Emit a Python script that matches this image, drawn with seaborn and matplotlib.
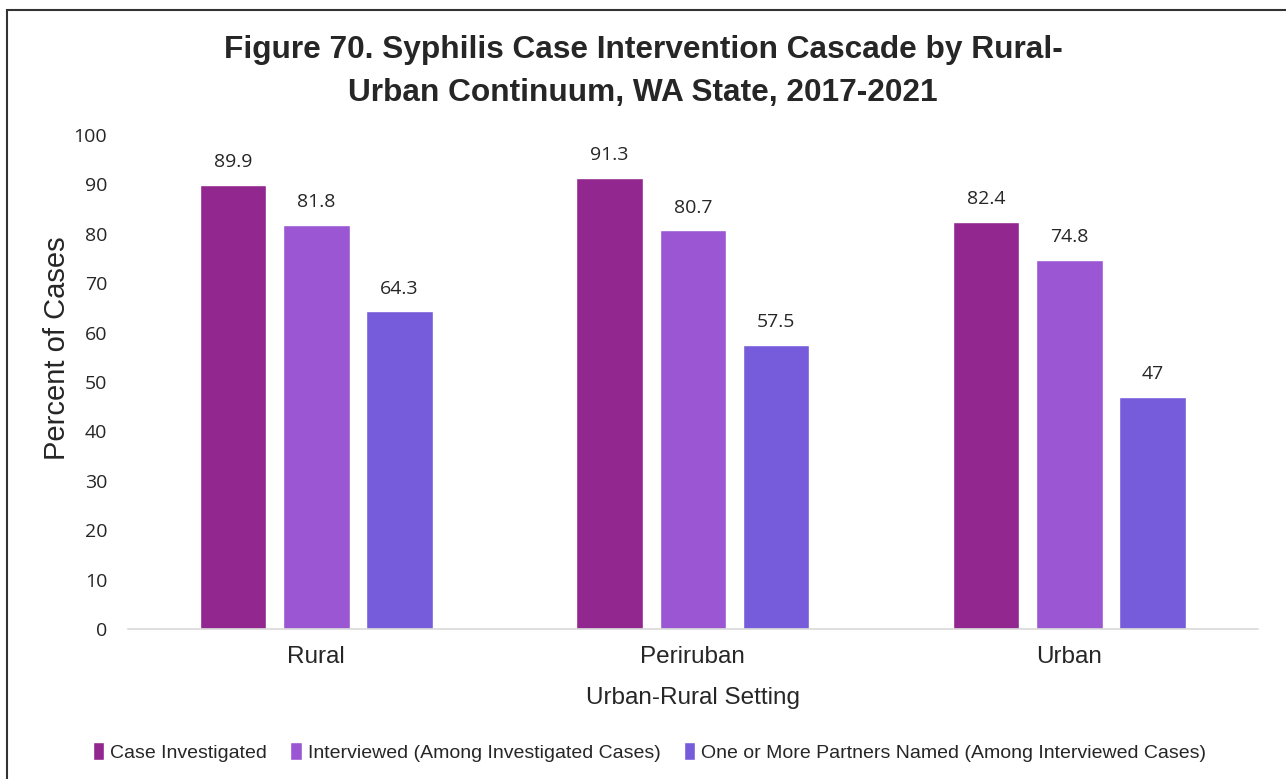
import pandas as pd
import seaborn as sns
import matplotlib.pyplot as plt
from matplotlib.patches import Rectangle

settings = ["Rural", "Periruban", "Urban"]
series = [
    "Case Investigated",
    "Interviewed (Among Investigated Cases)",
    "One or More Partners Named (Among Interviewed Cases)",
]
case_investigated = [89.9, 91.3, 82.4]
interviewed = [81.8, 80.7, 74.8]
partners_named = [64.3, 57.5, 47]
colors = ["#92278F", "#9B57D3", "#765CDB"]

df = pd.DataFrame({
    "setting": settings * 3,
    "series": [series[0]] * 3 + [series[1]] * 3 + [series[2]] * 3,
    "value": case_investigated + interviewed + partners_named,
})

sns.set_theme(style="white")
plt.rcParams["font.family"] = ["Liberation Sans", "DejaVu Sans"]
text_color = "#262626"

fig = plt.figure(figsize=(12.86, 7.79), dpi=100)
ax = fig.add_axes([0.0995, 0.1926, 0.8785, 0.634])

sns.barplot(
    data=df, x="setting", y="value", hue="series",
    order=settings, hue_order=series, palette=colors,
    width=0.663, gap=0.2, saturation=1, legend=True, ax=ax,
)

for cont in ax.containers:
    labels = [f"{v:g}" for v in cont.datavalues]
    ax.bar_label(cont, labels=labels, padding=10, fontsize=14,
                 color=text_color, family=["Open Sans", "DejaVu Sans"])

ax.set_ylim(0, 100)
ax.set_xlim(-0.5, 2.5)
ax.set_yticks(range(0, 101, 10))
ax.tick_params(axis="y", labelsize=14, labelcolor=text_color, pad=15, length=0)
for lbl in ax.get_yticklabels():
    lbl.set_family(["Open Sans", "DejaVu Sans"])
ax.tick_params(axis="x", labelsize=17.5, labelcolor=text_color, pad=12, length=0)

sns.despine(ax=ax, left=True)
ax.spines["bottom"].set_color("#d9d9d9")
ax.spines["bottom"].set_linewidth(1.2)

ax.set_ylabel("Percent of Cases", fontsize=21, color=text_color)
ax.yaxis.set_label_coords(-0.05, 0.569)
ax.set_xlabel("Urban-Rural Setting", fontsize=17.5, color=text_color, labelpad=14)

fig.suptitle("Figure 70. Syphilis Case Intervention Cascade by Rural-\nUrban Continuum, WA State, 2017-2021",
             x=0.5, y=0.955, fontsize=22.8, fontweight="bold", color=text_color,
             linespacing=1.55)

handles, labs = ax.get_legend_handles_labels()
ax.legend_.remove()
fig.legend(handles, labs, loc="lower center", bbox_to_anchor=(0.505, 0.0),
           ncol=3, frameon=False, fontsize=14, handlelength=0.6,
           handleheight=1.0, handletextpad=0.3, columnspacing=1.2,
           labelcolor=text_color)

fig.patches.append(Rectangle((7 / 1286, -0.1), 1.2, 1 - 10 / 779 + 0.1,
                             transform=fig.transFigure, fill=False,
                             edgecolor="#333333", linewidth=1.5))

fig.savefig("out.png", dpi=100)
